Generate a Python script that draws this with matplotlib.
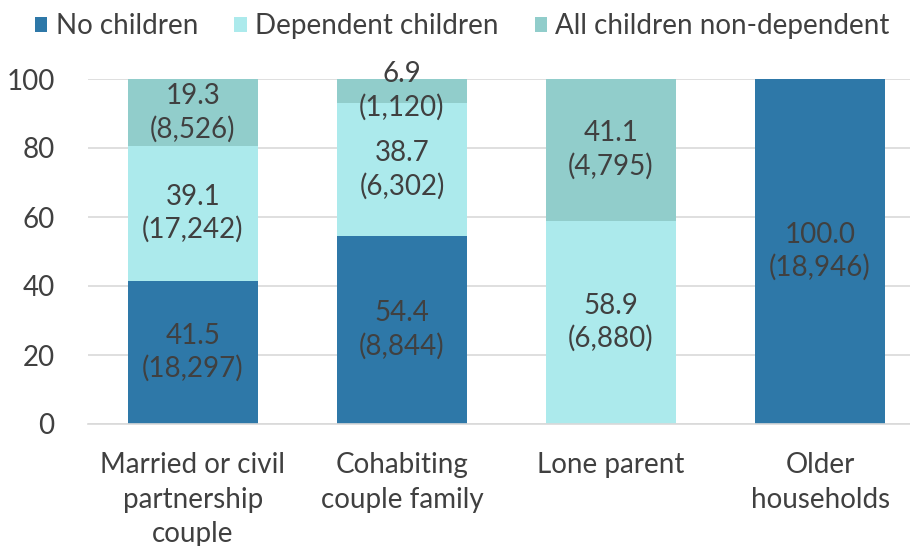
import matplotlib
matplotlib.use("Agg")
import matplotlib.pyplot as plt
import numpy as np

categories = ["Married or civil\npartnership\ncouple", "Cohabiting\ncouple family", "Lone parent", "Older\nhouseholds"]
series_names = ["No children", "Dependent children", "All children non-dependent"]
no_children = [41.5, 54.4, 0.0, 100.0]
dependent = [39.1, 38.7, 58.9, 0.0]
non_dependent = [19.3, 6.9, 41.1, 0.0]
no_children_n = ["18,297", "8,844", "", "18,946"]
dependent_n = ["17,242", "6,302", "6,880", ""]
non_dependent_n = ["8,526", "1,120", "4,795", ""]
yticks = [0, 20, 40, 60, 80, 100]

colors = ["#2E78A8", "#ACEAEC", "#91CDCB"]
text_color = "#404040"
plt.rcParams['font.family'] = ['Lato', 'DejaVu Sans']
FS = 20

fig = plt.figure(figsize=(9.1, 5.46), dpi=100)
ax = fig.add_axes([88/910, (546-424)/546, (910-88)/910, (424-79)/546])

x = np.arange(len(categories))
width = 0.62
bottom = np.zeros(len(categories))
all_vals = [no_children, dependent, non_dependent]
all_ns = [no_children_n, dependent_n, non_dependent_n]
for name, vals, ns, c in zip(series_names, all_vals, all_ns, colors):
    vals = np.array(vals)
    ax.bar(x, vals, width, bottom=bottom, color=c, label=name, zorder=2)
    for i, (v, n) in enumerate(zip(vals, ns)):
        if v > 0:
            ax.text(x[i], bottom[i] + v / 2, f"{v:.1f}\n({n})", ha="center", va="center",
                    fontsize=FS, color=text_color, linespacing=1.3, zorder=3)
    bottom += vals

ax.set_ylim(0, 100)
ax.set_xlim(-0.502, 3.43)
ax.set_yticks(yticks)
ax.set_yticklabels([str(t) for t in yticks])
ax.set_xticks(x)
ax.set_xticklabels(categories, linespacing=1.42)
ax.tick_params(axis="both", length=0, labelsize=FS, colors=text_color)
ax.tick_params(axis="y", pad=24)
ax.tick_params(axis="x", pad=20)
ax.yaxis.grid(True, color="#D9D9D9", linewidth=1.2, zorder=0)
ax.set_axisbelow(True)
for s in ["top", "right", "left"]:
    ax.spines[s].set_visible(False)
ax.spines["bottom"].set_color("#D9D9D9")
ax.spines["bottom"].set_linewidth(1.2)

leg = fig.legend(loc="upper center", bbox_to_anchor=(0.508, 1.022), ncol=3, frameon=False,
                 fontsize=FS, handlelength=0.45, handleheight=0.45, handletextpad=0.3,
                 columnspacing=1.3, labelcolor=text_color)

fig.savefig("out.png", dpi=100)
